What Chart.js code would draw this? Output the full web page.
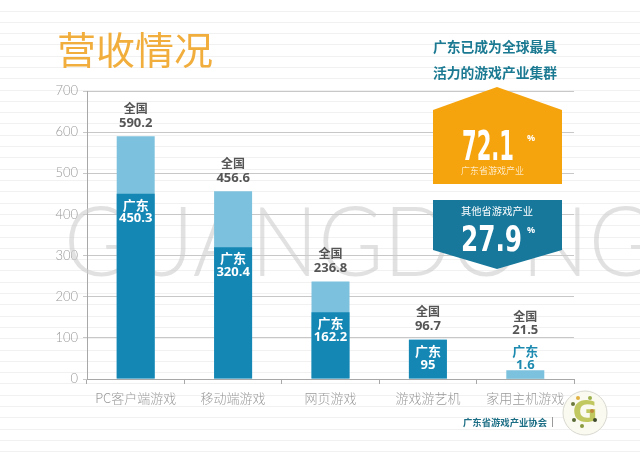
<!DOCTYPE html>
<html>
<head>
<meta charset="utf-8">
<script src="https://cdn.jsdelivr.net/npm/chart.js@4"></script>
<style>
html,body{margin:0;padding:0;background:#fff;}
canvas{display:block;}
</style>
</head>
<body>
<canvas id="c" width="640" height="460"></canvas>
<script>
// ---- data ----
const categories = ['PC客户端游戏', '移动端游戏', '网页游戏', '游戏游艺机', '家用主机游戏'];
const national = [590.2, 456.6, 236.8, 96.7, 21.5];
const guangdong = [450.3, 320.4, 162.2, 95, 1.6];
const yTicks = [0, 100, 200, 300, 400, 500, 600, 700];
const titleText = '营收情况';
const headline = ['广东已成为全球最具', '活力的游戏产业集群'];
const shareGD = '72.1';
const shareOther = '27.9';
const shareGDLabel = '广东省游戏产业';
const shareOtherLabel = '其他省游戏产业';
const footerText = '广东省游戏产业协会';
const watermark = 'GUANGDONG';

const CJK = '"Noto Sans CJK SC", "Noto Sans", sans-serif';
const DARK = '#1487b4';
const LIGHT = '#7cc1dd';
const TEAL = '#17789c';
const ORANGE = '#f6a40e';

function fitText(ctx, text, x, y, width, align) {
  const w = ctx.measureText(text).width;
  const s = width / w;
  ctx.save();
  ctx.translate(x, y);
  ctx.scale(s, 1);
  ctx.textAlign = 'left';
  let ox = 0;
  if (align === 'center') ox = -w / 2;
  ctx.fillText(text, ox, 0);
  ctx.restore();
}

const bgPlugin = {
  id: 'bg',
  beforeDraw(chart) {
    const ctx = chart.ctx;
    ctx.save();
    ctx.fillStyle = '#ffffff';
    ctx.fillRect(0, 0, chart.width, chart.height);
    ctx.strokeStyle = 'rgba(0,0,0,0.055)';
    ctx.lineWidth = 1;
    for (let yy = 10.5; yy < chart.height; yy += 11.3) {
      const py = Math.round(yy) + 0.5;
      ctx.beginPath();
      ctx.moveTo(0, py);
      ctx.lineTo(chart.width, py);
      ctx.stroke();
    }
    ctx.restore();
  }
};

const watermarkPlugin = {
  id: 'wm',
  beforeDatasetsDraw(chart) {
    const ctx = chart.ctx;
    ctx.save();
    ctx.fillStyle = 'rgba(205,205,205,0.6)';
    ctx.font = '300 97px Lato, "Open Sans", sans-serif';
    ctx.textBaseline = 'alphabetic';
    fitText(ctx, watermark, 64, 276, 590, 'left');
    ctx.restore();
  }
};

const labelPlugin = {
  id: 'labels',
  afterDatasetsDraw(chart) {
    const ctx = chart.ctx;
    const xs = chart.scales.x, ys = chart.scales.y;
    const base = ys.getPixelForValue(0);
    ctx.save();
    ctx.textAlign = 'center';
    ctx.textBaseline = 'middle';
    categories.forEach((c, i) => {
      const cx = xs.getPixelForValue(i);
      const topN = ys.getPixelForValue(national[i]);
      const topG = ys.getPixelForValue(guangdong[i]);
      const inside = (base - topG) > 30;
      let nA, nB;
      if (inside) {
        ctx.fillStyle = '#ffffff';
        ctx.font = 'bold 13px ' + CJK;
        ctx.fillText('广东', cx, topG + 11);
        ctx.font = 'bold 13px "Open Sans", sans-serif';
        ctx.fillText(String(guangdong[i]), cx, topG + 25);
        nA = topN - 28; nB = topN - 13;
      } else {
        ctx.fillStyle = '#1d8ab0';
        ctx.font = 'bold 13px ' + CJK;
        ctx.fillText('广东', cx, topN - 19);
        ctx.font = 'bold 13px "Open Sans", sans-serif';
        ctx.fillText(String(guangdong[i]), cx, topN - 5);
        nA = topN - 54; nB = topN - 40;
      }
      ctx.fillStyle = '#555555';
      ctx.font = 'bold 12px ' + CJK;
      ctx.fillText('全国', cx, nA);
      ctx.font = 'bold 13px "Open Sans", sans-serif';
      ctx.fillText(String(national[i]), cx, nB);
    });
    ctx.restore();
  }
};

const overlayPlugin = {
  id: 'overlay',
  afterDraw(chart) {
    const ctx = chart.ctx;
    ctx.save();
    // title
    ctx.fillStyle = '#f1ae3c';
    ctx.font = '400 38px ' + CJK;
    ctx.textBaseline = 'alphabetic';
    ctx.textAlign = 'left';
    fitText(ctx, titleText, 57, 64, 156, 'left');

    // headline
    ctx.fillStyle = '#1b7a92';
    ctx.font = 'bold 14px ' + CJK;
    ctx.textBaseline = 'middle';
    fitText(ctx, headline[0], 495, 47, 124, 'center');
    fitText(ctx, headline[1], 495, 73, 124, 'center');

    // orange hexagon-top block
    ctx.fillStyle = ORANGE;
    ctx.beginPath();
    ctx.moveTo(497, 87);
    ctx.lineTo(562, 110);
    ctx.lineTo(562, 184);
    ctx.lineTo(433, 184);
    ctx.lineTo(433, 110);
    ctx.closePath();
    ctx.fill();

    // teal block with bottom point
    ctx.fillStyle = TEAL;
    ctx.beginPath();
    ctx.moveTo(433, 200);
    ctx.lineTo(562, 200);
    ctx.lineTo(562, 250);
    ctx.lineTo(497, 269);
    ctx.lineTo(433, 250);
    ctx.closePath();
    ctx.fill();

    ctx.fillStyle = '#ffffff';
    ctx.textBaseline = 'alphabetic';
    ctx.font = 'bold 40px "DejaVu Sans Condensed", "DejaVu Sans", sans-serif';
    fitText(ctx, shareGD, 462, 160, 52, 'left');
    ctx.font = 'bold 9px "Open Sans", sans-serif';
    ctx.fillText('%', 527, 141);
    ctx.font = '300 9px ' + CJK;
    ctx.textBaseline = 'middle';
    fitText(ctx, shareGDLabel, 461, 171, 63, 'left');
    ctx.font = '400 10.5px ' + CJK;
    fitText(ctx, shareOtherLabel, 461, 211, 72, 'left');
    ctx.textBaseline = 'alphabetic';
    ctx.font = 'bold 35px "DejaVu Sans Condensed", "DejaVu Sans", sans-serif';
    fitText(ctx, shareOther, 461, 251, 61, 'left');
    ctx.font = 'bold 9px "Open Sans", sans-serif';
    ctx.fillText('%', 527, 233);

    // footer
    ctx.fillStyle = '#1d6f86';
    ctx.font = 'bold 9.5px ' + CJK;
    ctx.textBaseline = 'middle';
    fitText(ctx, footerText, 463, 422, 84, 'left');
    ctx.fillStyle = '#9a9a9a';
    ctx.fillRect(552, 417, 1, 10);

    // logo
    ctx.beginPath();
    ctx.arc(585, 413, 22, 0, Math.PI * 2);
    ctx.fillStyle = '#fbfaf0';
    ctx.fill();
    ctx.strokeStyle = '#d8d8d0';
    ctx.lineWidth = 1;
    ctx.stroke();
    ctx.fillStyle = '#c2c860';
    ctx.font = 'bold 30px "DejaVu Sans", sans-serif';
    ctx.textAlign = 'center';
    ctx.fillText('G', 585, 414);
    const dots = [[573,404,'#6b7a3a'],[578,398,'#e0b040'],[590,398,'#9bb04a'],[574,420,'#5a6a35'],[582,426,'#8a9a40'],[595,420,'#3f4a2a'],[592,411,'#c08a3a']];
    dots.forEach(d => { ctx.beginPath(); ctx.arc(d[0], d[1], 2, 0, Math.PI*2); ctx.fillStyle = d[2]; ctx.fill(); });
    ctx.restore();
  }
};

new Chart(document.getElementById('c'), {
  type: 'bar',
  data: {
    labels: categories,
    datasets: [
      { label: '广东', data: guangdong, backgroundColor: DARK, grouped: false, order: 0,
        categoryPercentage: 1, barPercentage: 0.39 },
      { label: '全国', data: national, backgroundColor: LIGHT, grouped: false, order: 1,
        categoryPercentage: 1, barPercentage: 0.39 }
    ]
  },
  options: {
    responsive: false,
    animation: false,
    devicePixelRatio: 1,
    layout: { padding: { top: 91, right: 66, left: 0, bottom: 0 } },
    plugins: { legend: { display: false }, tooltip: { enabled: false } },
    scales: {
      x: {
        offset: true,
        grid: { drawOnChartArea: false, color: '#a8a8a8', tickLength: 5, offset: true },
        border: { color: '#a8a8a8' },
        ticks: { color: '#9a9a9a', padding: 6, font: { size: 13, family: CJK, weight: '300' }, maxRotation: 0, autoSkip: false },
        afterFit(s) { s.height = 81; }
      },
      y: {
        min: 0, max: 700,
        afterBuildTicks(s) { s.ticks = yTicks.map(v => ({ value: v })); },
        grid: { color: '#c8c8c8', tickLength: 4 },
        border: { color: '#a8a8a8' },
        ticks: { color: '#9a9a9a', padding: 5, font: { size: 13, family: 'Lato, "Open Sans", sans-serif', weight: '300' } },
        afterFit(s) { s.width = 87; }
      }
    }
  },
  plugins: [bgPlugin, watermarkPlugin, labelPlugin, overlayPlugin]
});
</script>
</body>
</html>
